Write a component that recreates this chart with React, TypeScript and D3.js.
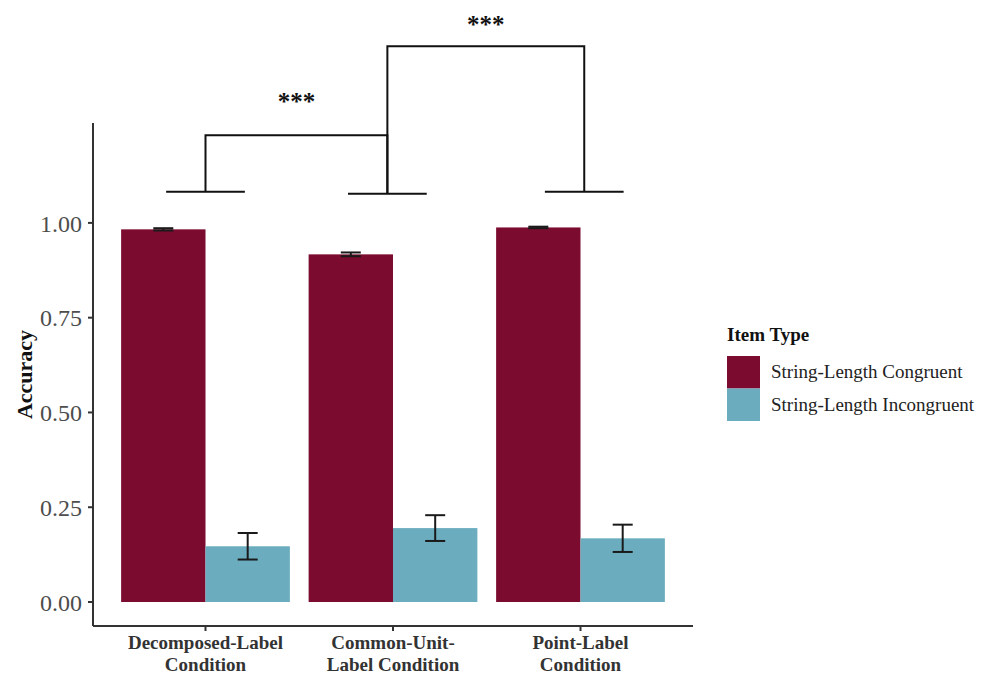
import React from 'react';
import * as d3 from 'd3';

const categories = ['Decomposed-Label Condition', 'Common-Unit-Label Condition', 'Point-Label Condition'];
const categoryLines = [
  ['Decomposed-Label', 'Condition'],
  ['Common-Unit-', 'Label Condition'],
  ['Point-Label', 'Condition'],
];
const itemTypes = ['String-Length Congruent', 'String-Length Incongruent'];
const congruentMeans = [0.983, 0.917, 0.988];
const congruentSE = [0.003, 0.005, 0.002];
const incongruentMeans = [0.147, 0.195, 0.168];
const incongruentSE = [0.035, 0.034, 0.036];
const yTicks = [0, 0.25, 0.5, 0.75, 1];

// significance brackets, in category units (1..3) and accuracy units
const bracketAnchors = [1, 1.97, 3.02];
const bracketFeet = [1.082, 1.077, 1.082];
const bracketPairs = [[0, 1], [1, 2]];
const bracketTops = [1.231, 1.466];
const bracketLabels = ['***', '***'];
const bracketLabelY = [1.297, 1.5];

const colors = ['#7c0b30', '#6badbf'];

const W = 985;
const H = 676;
const left = 93;
const right = 693;
const top = 123;
const bottom = 626;

const App = () => {
  const y = d3.scaleLinear().domain([-0.0633, 1.2635]).range([bottom, top]);
  const x = d3.scaleBand().domain(categories).range([left, right]).paddingInner(0.1).paddingOuter(0.15);
  const xSub = d3.scaleBand().domain(itemTypes).range([0, x.bandwidth()]);
  const step = x.step();
  const c0 = (x(categories[0]) as number) + x.bandwidth() / 2;
  const u = d3.scaleLinear().domain([1, 2]).range([c0, c0 + step]);

  const rows = categories.flatMap((c, i) => [
    { c, t: itemTypes[0], m: congruentMeans[i], se: congruentSE[i] },
    { c, t: itemTypes[1], m: incongruentMeans[i], se: incongruentSE[i] },
  ]);

  const errHalf = 10;
  const footHalf = 0.21;
  const serif = '"Liberation Serif", "Times New Roman", serif';

  return (
    <svg width={W} height={H} style={{ position: 'absolute', left: 0, top: 0, background: '#fff' }} fontFamily={serif}>
      {rows.map((r, i) => (
        <rect
          key={i}
          x={(x(r.c) as number) + (xSub(r.t) as number)}
          y={y(r.m)}
          width={xSub.bandwidth()}
          height={y(0) - y(r.m)}
          fill={colors[itemTypes.indexOf(r.t)]}
        />
      ))}
      {rows.map((r, i) => {
        const cx = (x(r.c) as number) + (xSub(r.t) as number) + xSub.bandwidth() / 2;
        return (
          <g key={i} stroke="#1a1a1a" strokeWidth={2} fill="none">
            <line x1={cx} x2={cx} y1={y(r.m + r.se)} y2={y(r.m - r.se)} />
            <line x1={cx - errHalf} x2={cx + errHalf} y1={y(r.m + r.se)} y2={y(r.m + r.se)} />
            <line x1={cx - errHalf} x2={cx + errHalf} y1={y(r.m - r.se)} y2={y(r.m - r.se)} />
          </g>
        );
      })}

      {/* axes */}
      <line x1={left} x2={left} y1={top} y2={bottom} stroke="#333" strokeWidth={2} />
      <line x1={left} x2={right} y1={bottom} y2={bottom} stroke="#333" strokeWidth={2} />
      {yTicks.map(t => (
        <g key={t}>
          <line x1={left - 5} x2={left} y1={y(t)} y2={y(t)} stroke="#333" strokeWidth={2} />
          <text x={left - 11} y={y(t)} dy="0.36em" textAnchor="end" fontSize={24} fill="#4d4d4d">
            {d3.format('.2f')(t)}
          </text>
        </g>
      ))}
      {categories.map((c, i) => {
        const cx = (x(c) as number) + x.bandwidth() / 2;
        return (
          <g key={c}>
            <line x1={cx} x2={cx} y1={bottom} y2={bottom + 5} stroke="#333" strokeWidth={2} />
            {categoryLines[i].map((l, j) => (
              <text key={j} x={cx} y={649 + j * 22} textAnchor="middle" fontSize={19} fontWeight="bold" fill="#333">
                {l}
              </text>
            ))}
          </g>
        );
      })}
      <text
        transform={`translate(32,${(top + bottom) / 2}) rotate(-90)`}
        textAnchor="middle"
        fontSize={22}
        fontWeight="bold"
        fill="#111"
      >
        Accuracy
      </text>

      {/* significance brackets */}
      <g stroke="#111" strokeWidth={2} fill="none">
        {bracketAnchors.map((a, i) => (
          <line key={i} x1={u(a - footHalf)} x2={u(a + footHalf)} y1={y(bracketFeet[i])} y2={y(bracketFeet[i])} />
        ))}
        {bracketPairs.map(([a, b], i) => (
          <path
            key={i}
            d={`M${u(bracketAnchors[a])},${y(bracketFeet[a])}V${y(bracketTops[i])}H${u(bracketAnchors[b])}V${y(bracketFeet[b])}`}
          />
        ))}
      </g>
      {bracketPairs.map(([a, b], i) => (
        <text
          key={i}
          x={u((bracketAnchors[a] + bracketAnchors[b]) / 2)}
          y={y(bracketLabelY[i])}
          textAnchor="middle"
          fontSize={25}
          fontWeight="bold"
          fill="#111"
        >
          {bracketLabels[i]}
        </text>
      ))}

      {/* legend */}
      <text x={727} y={341} fontSize={19} fontWeight="bold" fill="#111">Item Type</text>
      {itemTypes.map((t, i) => (
        <g key={t} transform={`translate(727,${356 + i * 32.5})`}>
          <rect width={33} height={32.5} fill={colors[i]} />
          <text x={44} y={22} fontSize={19} fill="#222">{t}</text>
        </g>
      ))}
    </svg>
  );
};

export default App;
